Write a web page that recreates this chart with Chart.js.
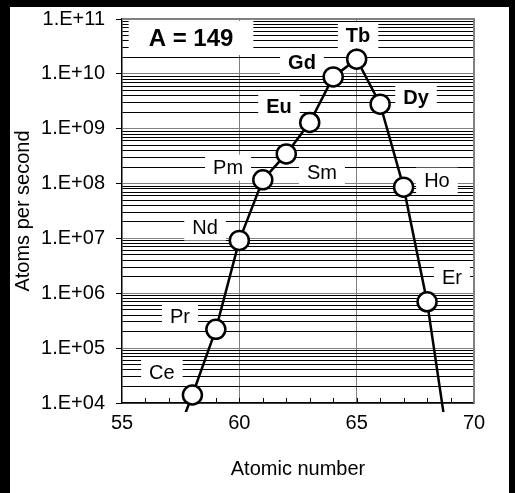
<!DOCTYPE html>
<html>
<head>
<meta charset="utf-8">
<script src="https://cdn.jsdelivr.net/npm/chart.js@4.4.0/dist/chart.umd.min.js"></script>
<style>
  html, body { margin: 0; padding: 0; background: #000; }
  #wrap { position: absolute; left: 10px; top: 7px; width: 499px; height: 486px; background: #fff; }
</style>
</head>
<body>
<div id="wrap"><canvas id="chart" width="499" height="486"></canvas></div>
<script>
// elements along the A = 149 isobar
var elements = ['La', 'Ce', 'Pr', 'Nd', 'Pm', 'Sm', 'Eu', 'Gd', 'Tb', 'Dy', 'Ho', 'Er', 'Tm'];
var atomicNumbers = [57, 58, 59, 60, 61, 62, 63, 64, 65, 66, 67, 68, 69];
var atomsPerSecond = [1.1e3, 1.4e4, 2.2e5, 9.2e6, 1.17e8, 3.47e8, 1.3e9, 8.8e9, 1.85e10, 2.8e9, 8.6e7, 7.0e5, 9e2];

// axis ticks
var xTickValues = [55, 60, 65, 70];
var yDecades = [1e4, 1e5, 1e6, 1e7, 1e8, 1e9, 1e10, 1e11];
var yTickLabels = ['1.E+04', '1.E+05', '1.E+06', '1.E+07', '1.E+08', '1.E+09', '1.E+10', '1.E+11'];

// text boxes on the plot, placed in data units (atomic number, atoms per second)
var boxTexts = ['A = 149', 'Tb', 'Gd', 'Eu', 'Pm', 'Sm', 'Nd', 'Pr', 'Ce', 'Dy', 'Ho', 'Er'];
var boxX = [57.94, 65.06, 62.67, 61.69, 59.52, 63.52, 58.54, 57.47, 56.70, 67.53, 68.42, 69.06];
var boxY = [4.5e10, 5.1e10, 1.58e10, 2.5e9, 1.95e8, 1.58e8, 1.58e7, 3.8e5, 3.6e4, 3.66e9, 1.13e8, 1.95e6];
var boxBold = [true, true, true, true, false, false, false, false, false, true, false, false];

var FONT = "'Liberation Sans', Arial, sans-serif";

// draws the white label boxes, the plot frame and the small inside ticks
var decorations = {
  id: 'decorations',
  beforeDatasetsDraw: function (chart) {
    var ctx = chart.ctx;
    var a = chart.chartArea;
    var x = chart.scales.x;
    var y = chart.scales.y;
    ctx.save();

    // grey frame on top and right
    ctx.strokeStyle = '#808080';
    ctx.lineWidth = 2;
    ctx.beginPath();
    ctx.moveTo(a.left, a.top);
    ctx.lineTo(a.right, a.top);
    ctx.lineTo(a.right, a.bottom);
    ctx.stroke();

    // minor ticks on the x axis, pointing up
    ctx.strokeStyle = '#000';
    ctx.lineWidth = 1;
    for (var z = x.min + 1; z < x.max; z++) {
      var px = Math.round(x.getPixelForValue(z)) + 0.5;
      ctx.beginPath();
      ctx.moveTo(px, a.bottom);
      ctx.lineTo(px, a.bottom - 5);
      ctx.stroke();
    }

    // label boxes
    ctx.textAlign = 'center';
    ctx.textBaseline = 'middle';
    for (var i = 0; i < boxTexts.length; i++) {
      var big = i === 0;
      ctx.font = (boxBold[i] ? 'bold ' : '') + (big ? 24 : 20) + 'px ' + FONT;
      var w = ctx.measureText(boxTexts[i]).width + (big ? 40 : 16);
      var h = big ? 34 : 26;
      var cx = x.getPixelForValue(boxX[i]);
      var cy = y.getPixelForValue(boxY[i]);
      ctx.fillStyle = '#fff';
      ctx.fillRect(cx - w / 2, cy - h / 2, w, h);
      ctx.fillStyle = '#000';
      ctx.fillText(boxTexts[i], cx, cy + 1);
    }
    ctx.restore();
  }
};

var ctx = document.getElementById('chart').getContext('2d');

var chart = new Chart(ctx, {
  type: 'line',
  data: {
    datasets: [
      {
        label: 'A = 149',
        data: atomicNumbers.map(function (z, i) { return { x: z, y: atomsPerSecond[i] }; }),
        borderColor: '#000',
        borderWidth: 2.5,
        pointRadius: 9.5,
        pointBorderWidth: 2.5,
        pointBackgroundColor: '#fff',
        pointBorderColor: '#000',
        tension: 0,
        clip: { left: 0, top: 0, right: 0, bottom: 9 }
      }
    ]
  },
  options: {
    responsive: false,
    animation: false,
    layout: { padding: { left: 0, right: 35, top: 11, bottom: 0 } },
    plugins: {
      legend: { display: false },
      tooltip: { enabled: false }
    },
    scales: {
      x: {
        type: 'linear',
        min: 55,
        max: 70,
        afterFit: function (scale) {
          scale.height = 90;
          scale.paddingLeft = 0;
          scale.paddingRight = 0;
        },
        afterBuildTicks: function (scale) {
          var t = [];
          for (var z = 55; z <= 70; z++) t.push({ value: z });
          scale.ticks = t;
        },
        ticks: {
          autoSkip: false,
          maxRotation: 0,
          padding: 8,
          color: '#000',
          font: { family: FONT, size: 20 },
          callback: function (v) { return xTickValues.indexOf(v) >= 0 ? String(v) : ''; }
        },
        grid: {
          drawTicks: false,
          lineWidth: 1,
          color: function (c) {
            var v = c.tick && c.tick.value;
            return (v === 60 || v === 65) ? '#808080' : 'rgba(0,0,0,0)';
          }
        },
        border: { color: '#000', width: 1.5 },
        title: {
          display: true,
          text: 'Atomic number',
          color: '#000',
          font: { family: FONT, size: 20 },
          padding: { top: 0, bottom: 12 }
        }
      },
      y: {
        type: 'logarithmic',
        min: 1e4,
        max: 1e11,
        afterFit: function (scale) {
          scale.width = 112;
          scale.paddingTop = 0;
          scale.paddingBottom = 0;
        },
        afterBuildTicks: function (scale) {
          var t = [];
          for (var d = 0; d < yDecades.length - 1; d++) {
            for (var m = 1; m <= 9; m++) t.push({ value: yDecades[d] * m, major: m === 1 });
          }
          t.push({ value: yDecades[yDecades.length - 1], major: true });
          scale.ticks = t;
        },
        ticks: {
          autoSkip: false,
          padding: 11,
          color: '#000',
          font: { family: FONT, size: 20 },
          callback: function (v) {
            var k = yDecades.indexOf(v);
            return k >= 0 ? yTickLabels[k] : '';
          }
        },
        grid: {
          drawTicks: true,
          tickLength: 6,
          lineWidth: 1,
          color: function (c) {
            var v = c.tick && c.tick.value;
            return yDecades.indexOf(v) >= 0 ? '#808080' : '#000';
          },
          tickColor: function (c) {
            var v = c.tick && c.tick.value;
            return yDecades.indexOf(v) >= 0 ? '#000' : 'rgba(0,0,0,0)';
          }
        },
        border: { color: '#000', width: 1.5 },
        title: {
          display: true,
          text: 'Atoms per second',
          color: '#000',
          font: { family: FONT, size: 20 },
          padding: { top: 1, bottom: 0 }
        }
      }
    }
  },
  plugins: [decorations]
});
</script>
</body>
</html>
